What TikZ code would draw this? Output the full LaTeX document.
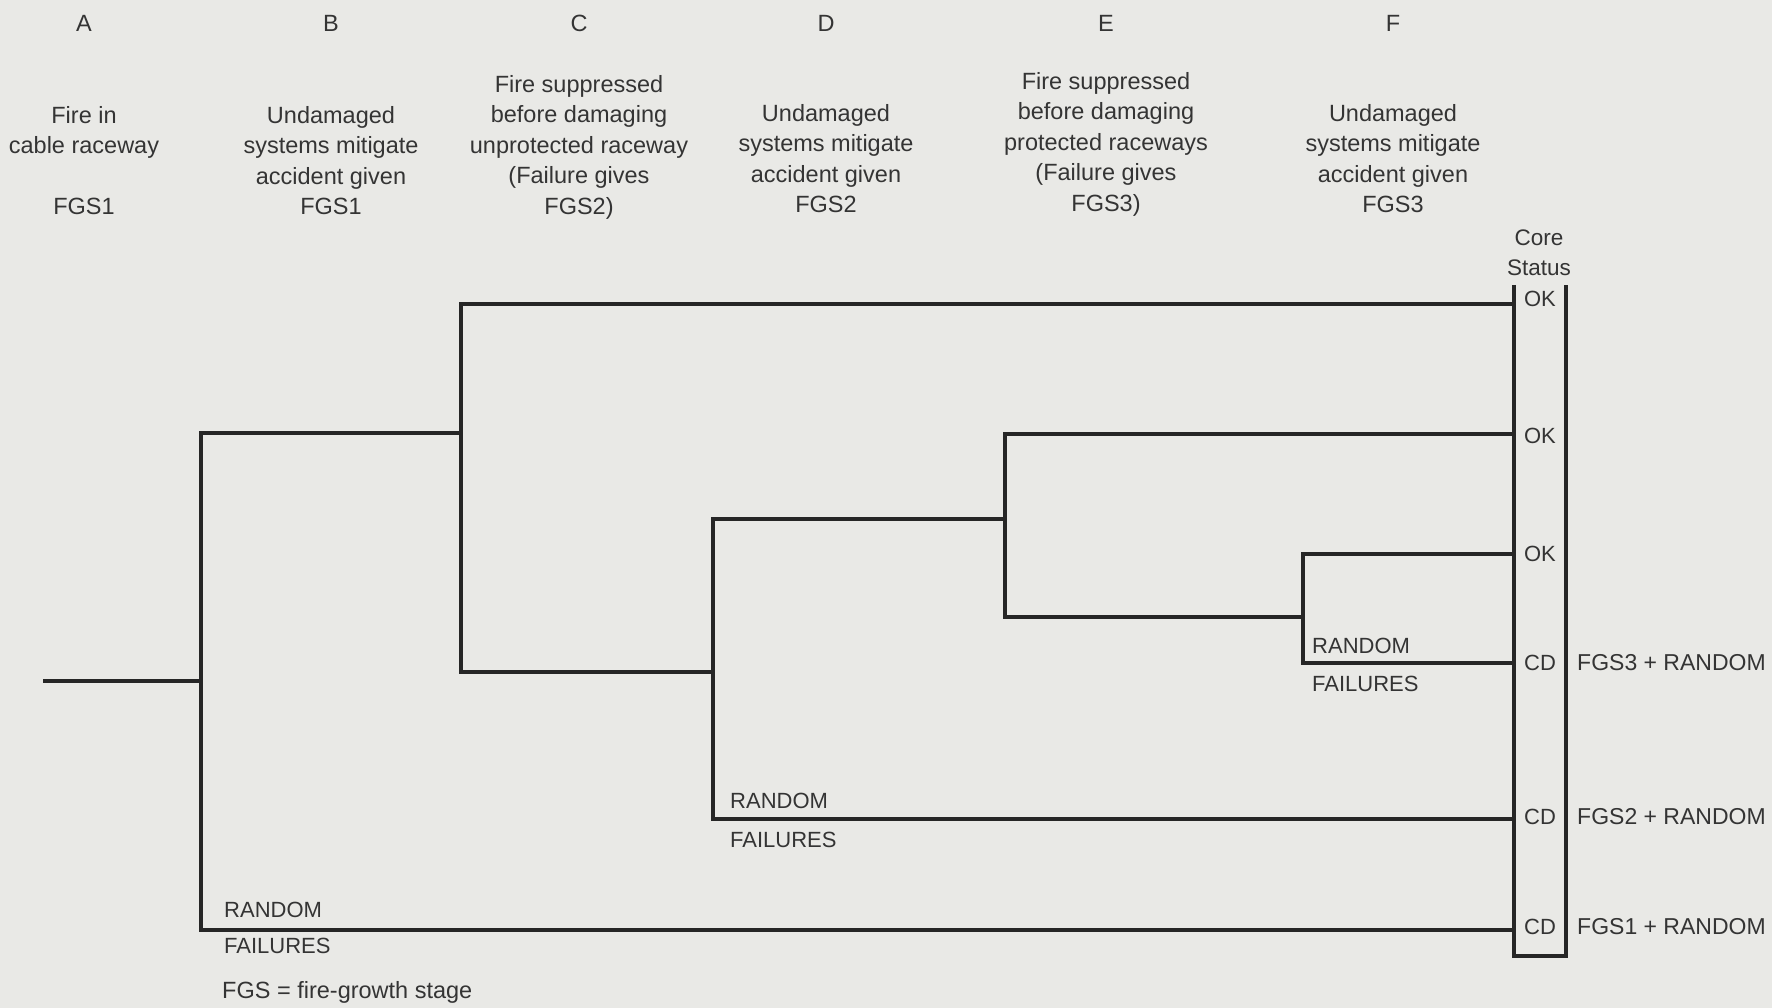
\documentclass[tikz,border=0pt]{standalone}
\usepackage{fontspec}
\setmainfont{Liberation Sans}
\begin{document}
\begin{tikzpicture}[x=1pt,y=-1pt,
  treeline/.style={line width=3.2pt,draw=linegray,line join=miter},
  head/.style={inner sep=0pt,text=textgray,align=center,
    font=\fontsize{23.5}{30.5}\selectfont},
  lbl/.style={inner sep=0pt,text=textgray,
    font=\fontsize{22}{26}\selectfont},
  outlbl/.style={lbl,anchor=west,font=\fontsize{23}{26}\selectfont},
]
\definecolor{paper}{RGB}{233,233,230}
\definecolor{linegray}{RGB}{38,38,38}
\definecolor{textgray}{RGB}{52,52,52}
\fill[paper] (0,0) rectangle (1772,1008);
\useasboundingbox (0,0) rectangle (1772,1008);

% column letters
\node[head] (colA) at (84,23) {A};
\node[head] (colB) at (331,23) {B};
\node[head] (colC) at (579,23) {C};
\node[head] (colD) at (826,23) {D};
\node[head] (colE) at (1106,23) {E};
\node[head] (colF) at (1393,23) {F};

% column headings
\node[head,anchor=north] (hA) at (84,106) {Fire in\\cable raceway\\[30.5pt]FGS1};
\node[head,anchor=north] (hB) at (331,106) {Undamaged\\systems mitigate\\accident given\\FGS1};
\node[head,anchor=north] (hC) at (579,75) {Fire suppressed\\before damaging\\unprotected raceway\\(Failure gives\\FGS2)};
\node[head,anchor=north] (hD) at (826,104) {Undamaged\\systems mitigate\\accident given\\FGS2};
\node[head,anchor=north] (hE) at (1106,72) {Fire suppressed\\before damaging\\protected raceways\\(Failure gives\\FGS3)};
\node[head,anchor=north] (hF) at (1393,104) {Undamaged\\systems mitigate\\accident given\\FGS3};

% core status column
\node[head,font=\fontsize{22.5}{30}\selectfont] (core) at (1539,238) {Core};
\node[head,font=\fontsize{22.5}{30}\selectfont] (status) at (1539,268) {Status};
\coordinate (boxtl) at (1514,285);
\coordinate (boxtr) at (1566,285);
\draw[treeline] (boxtl) |- (1566,956) -- (boxtr);

% branch points
\coordinate (start) at (43,681);
\coordinate (nA) at (201,681);
\coordinate (nB) at (461,433);
\coordinate (nC) at (713,672);
\coordinate (nD) at (1005,519);
\coordinate (nE) at (1303,617);

% end points on the status column
\coordinate (ok1) at (1514,304);
\coordinate (ok2) at (1514,434);
\coordinate (ok3) at (1514,554);
\coordinate (cd1) at (1514,663);
\coordinate (cd2) at (1514,819);
\coordinate (cd3) at (1514,930);

% event tree
\draw[treeline] (start) -- (nA);
\draw[treeline] (nB) -| (nA) |- (cd3);
\draw[treeline] (ok1) -| (nB) |- (nC);
\draw[treeline] (nD) -| (nC) |- (cd2);
\draw[treeline] (ok2) -| (nD) |- (nE);
\draw[treeline] (ok3) -| (nE) |- (cd1);

% failure branch labels
\node[lbl,anchor=west] (rA) at (224,910) {RANDOM};
\node[lbl,anchor=west] (fA) at (224,946) {FAILURES};
\node[lbl,anchor=west] (rC) at (730,801) {RANDOM};
\node[lbl,anchor=west] (fC) at (730,840) {FAILURES};
\node[lbl,anchor=west] (rE) at (1312,646) {RANDOM};
\node[lbl,anchor=west] (fE) at (1312,684) {FAILURES};

% outcomes
\node[lbl] (s1) at (1540,299) {OK};
\node[lbl] (s2) at (1540,436) {OK};
\node[lbl] (s3) at (1540,554) {OK};
\node[lbl] (s4) at (1540,663) {CD};
\node[lbl] (s5) at (1540,817) {CD};
\node[lbl] (s6) at (1540,927) {CD};
\node[outlbl] (o4) at (1577,663) {FGS3 + RANDOM};
\node[outlbl] (o5) at (1577,817) {FGS2 + RANDOM};
\node[outlbl] (o6) at (1577,927) {FGS1 + RANDOM};

% legend
\node[head,anchor=west] (legend) at (222,992) {FGS = fire-growth stage};
\end{tikzpicture}
\end{document}
